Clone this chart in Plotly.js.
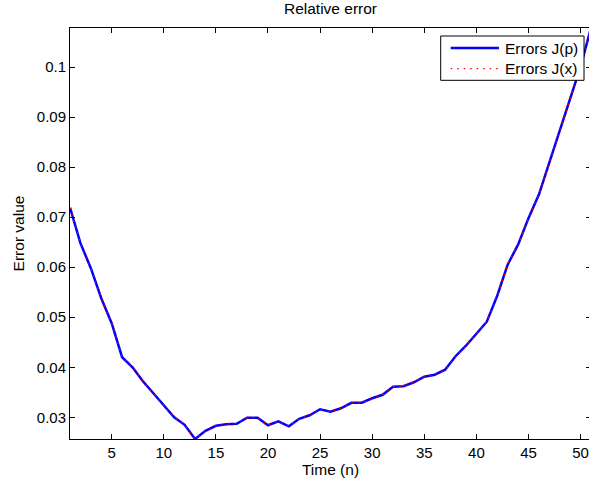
<!DOCTYPE html>
<html>
<head>
<meta charset="utf-8">
<script src="https://cdn.plot.ly/plotly-3.0.1.min.js"></script>
<style>
html, body { margin: 0; padding: 0; overflow: hidden; background: #fff; }
#chart { width: 591px; height: 482px; }
</style>
</head>
<body>
<div id="chart"></div>
<script>
// Time steps
const timeSteps = [1,2,3,4,5,6,7,8,9,10,11,12,13,14,15,16,17,18,19,20,21,22,23,24,25,26,27,28,29,30,31,32,33,34,35,36,37,38,39,40,41,42,43,44,45,46,47,48,49,50,51];
// Errors J(p)
const errorsJp = [0.0719,0.0648,0.0598,0.0538,0.0488,0.0420,0.0400,0.0372,0.0348,0.0323,0.0300,0.0285,0.02566,0.0273,0.0283,0.0286,0.0287,0.0299,0.0299,0.0284,0.0292,0.0282,0.0297,0.0304,0.0316,0.0311,0.0318,0.0329,0.0329,0.0338,0.0345,0.0361,0.0362,0.0370,0.0381,0.0385,0.0395,0.0422,0.0443,0.0467,0.0491,0.0543,0.0605,0.0645,0.0698,0.0745,0.0808,0.0873,0.0935,0.1001,0.1078];
// Errors J(x)
const errorsJx = [0.0719,0.0648,0.0598,0.0538,0.0488,0.0420,0.0400,0.0372,0.0348,0.0323,0.0300,0.0285,0.02566,0.0273,0.0283,0.0286,0.0287,0.0299,0.0299,0.0284,0.0292,0.0282,0.0297,0.0304,0.0316,0.0311,0.0318,0.0329,0.0329,0.0338,0.0345,0.0361,0.0362,0.0370,0.0381,0.0385,0.0395,0.0422,0.0443,0.0467,0.0491,0.0543,0.0605,0.0645,0.0698,0.0745,0.0808,0.0873,0.0935,0.1001,0.1078];
// Series names
const seriesNames = ["Errors J(p)", "Errors J(x)"];
// Tick labels
const xTickVals = [5,10,15,20,25,30,35,40,45,50];
const yTickVals = [0.03,0.04,0.05,0.06,0.07,0.08,0.09,0.1];
const yTickText = ["0.03","0.04","0.05","0.06","0.07","0.08","0.09","0.1"];

const font = "Liberation Sans, Arial, Helvetica, sans-serif";
const blueLine = { color: "#0000ff", width: 2.5 };
const redLine = { color: "#ff0000", width: 1.2, dash: "1.5px,5px" };

const traces = [
  { x: timeSteps, y: errorsJp, type: "scatter", mode: "lines", name: seriesNames[0], line: blueLine, showlegend: false },
  { x: timeSteps, y: errorsJx, type: "scatter", mode: "lines", name: seriesNames[1], line: redLine, showlegend: false }
];

// Hand-drawn MATLAB-style legend box (paper coordinates)
const lg = { x0: 0.7115, x1: 0.9866, y0: 0.8727, y1: 0.9805, sx0: 0.7307, sx1: 0.8234, tx: 0.8320, rows: [0.9513, 0.9010] };
const shapes = [
  { type: "rect", xref: "paper", yref: "paper", x0: lg.x0, x1: lg.x1, y0: lg.y0, y1: lg.y1,
    line: { color: "#000", width: 1 }, fillcolor: "#fff", layer: "above" },
  { type: "line", xref: "paper", yref: "paper", x0: lg.sx0, x1: lg.sx1, y0: lg.rows[0], y1: lg.rows[0],
    line: blueLine, layer: "above" },
  { type: "line", xref: "paper", yref: "paper", x0: lg.sx0, x1: lg.sx1, y0: lg.rows[1], y1: lg.rows[1],
    line: { color: "#ff0000", width: 1.2, dash: "1.5px,5px" }, layer: "above" }
];
const annotations = seriesNames.map((name, i) => ({
  xref: "paper", yref: "paper", x: lg.tx, y: lg.rows[i], xanchor: "left", yanchor: "middle",
  text: name, showarrow: false, font: { family: font, size: 15.5, color: "#000" }
}));

const layout = {
  width: 591, height: 482,
  margin: { l: 70, r: 0, t: 28, b: 43 },
  paper_bgcolor: "#fff", plot_bgcolor: "#fff",
  font: { family: font, size: 15, color: "#000" },
  title: { text: "Relative error", font: { family: font, size: 15.5, color: "#000" },
           x: 0.5, xref: "paper", xanchor: "center", y: 1, yref: "container", yanchor: "top", pad: { t: 3 } },
  xaxis: {
    range: [1, 51], showgrid: false, zeroline: false,
    showline: true, linecolor: "#000", linewidth: 1, mirror: "ticks",
    ticks: "inside", ticklen: 5, tickcolor: "#000", tickwidth: 1,
    tickmode: "array", tickvals: xTickVals,
    tickfont: { family: font, size: 15, color: "#000" },
    title: { text: "Time (n)", font: { family: font, size: 15.5, color: "#000" }, standoff: 3 }
  },
  yaxis: {
    range: [0.02566, 0.1078], showgrid: false, zeroline: false,
    showline: true, linecolor: "#000", linewidth: 1, mirror: "ticks",
    ticks: "inside", ticklen: 5, tickcolor: "#000", tickwidth: 1,
    tickmode: "array", tickvals: yTickVals, ticktext: yTickText,
    tickfont: { family: font, size: 15, color: "#000" },
    title: { text: "Error value", font: { family: font, size: 15.5, color: "#000" }, standoff: 8 }
  },
  showlegend: false,
  shapes: shapes,
  annotations: annotations
};

Plotly.newPlot("chart", traces, layout, { displayModeBar: false, staticPlot: true });
</script>
</body>
</html>
